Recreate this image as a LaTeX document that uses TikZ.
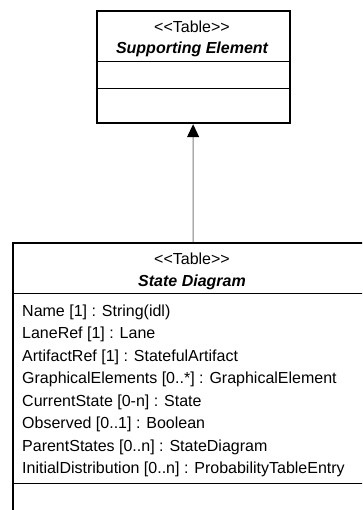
\documentclass[tikz,border=0pt]{standalone}
\usepackage{fontspec}
\setmainfont{Liberation Sans}
\usetikzlibrary{arrows.meta}
\tikzset{
  classbox/.style={draw=black, line width=2.2bp, fill=white, inner sep=0pt, anchor=north west},
  compline/.style={draw=black, line width=1bp},
  stereo/.style={anchor=base, inner sep=0pt, font=\fontsize{16bp}{19bp}\selectfont},
  classname/.style={anchor=base, inner sep=0pt, font=\fontsize{16bp}{19bp}\selectfont\bfseries\itshape},
  attr/.style={anchor=base west, inner sep=0pt, font=\fontsize{16bp}{19bp}\selectfont},
  generalization/.style={draw=black!50, line width=1.2bp, -{Triangle[width=12bp, length=13bp, fill=black, color=black]}},
}
\begin{document}
\begin{tikzpicture}[x=1bp, y=-1bp]
  \clip (0,0) rectangle (362,510);
  \fill[white] (0,0) rectangle (362,510);

  % Supporting Element class
  \node[classbox, minimum width=193bp, minimum height=112bp] (sup) at (95.5,10) {};
  \draw[compline] (sup.west |- 0,62) -- (sup.east |- 0,62);
  \draw[compline] (sup.west |- 0,89) -- (sup.east |- 0,89);
  \node[stereo] (supst) at (192,33) {<{}<Table>{}>};
  \node[classname] (supnm) at (192,54) {Supporting Element};

  % State Diagram class
  \node[classbox, minimum width=360bp, minimum height=290bp] (sd) at (12,242) {};
  \draw[compline] (sd.west |- 0,293) -- (sd.east |- 0,293);
  \draw[compline] (sd.west |- 0,483) -- (sd.east |- 0,483);
  \node[stereo] (sdst) at (192,264) {<{}<Table>{}>};
  \node[classname] (sdnm) at (192,286) {State Diagram};
  \node[attr] (a1) at (22,316) {Name [1] : String(idl)};
  \node[attr] (a2) at (22,338.5) {LaneRef [1] : Lane};
  \node[attr] (a3) at (22,361) {ArtifactRef [1] : StatefulArtifact};
  \node[attr] (a4) at (22,383.5) {GraphicalElements [0..*] : GraphicalElement};
  \node[attr] (a5) at (22,406) {CurrentState [0-n] : State};
  \node[attr] (a6) at (22,428.5) {Observed [0..1] : Boolean};
  \node[attr] (a7) at (22,451) {ParentStates [0..n] : StateDiagram};
  \node[attr] (a8) at (22,473.5) {InitialDistribution [0..n] : ProbabilityTableEntry};

  % generalization
  \draw[generalization] (sd.north) -- (sup.south);
\end{tikzpicture}
\end{document}
